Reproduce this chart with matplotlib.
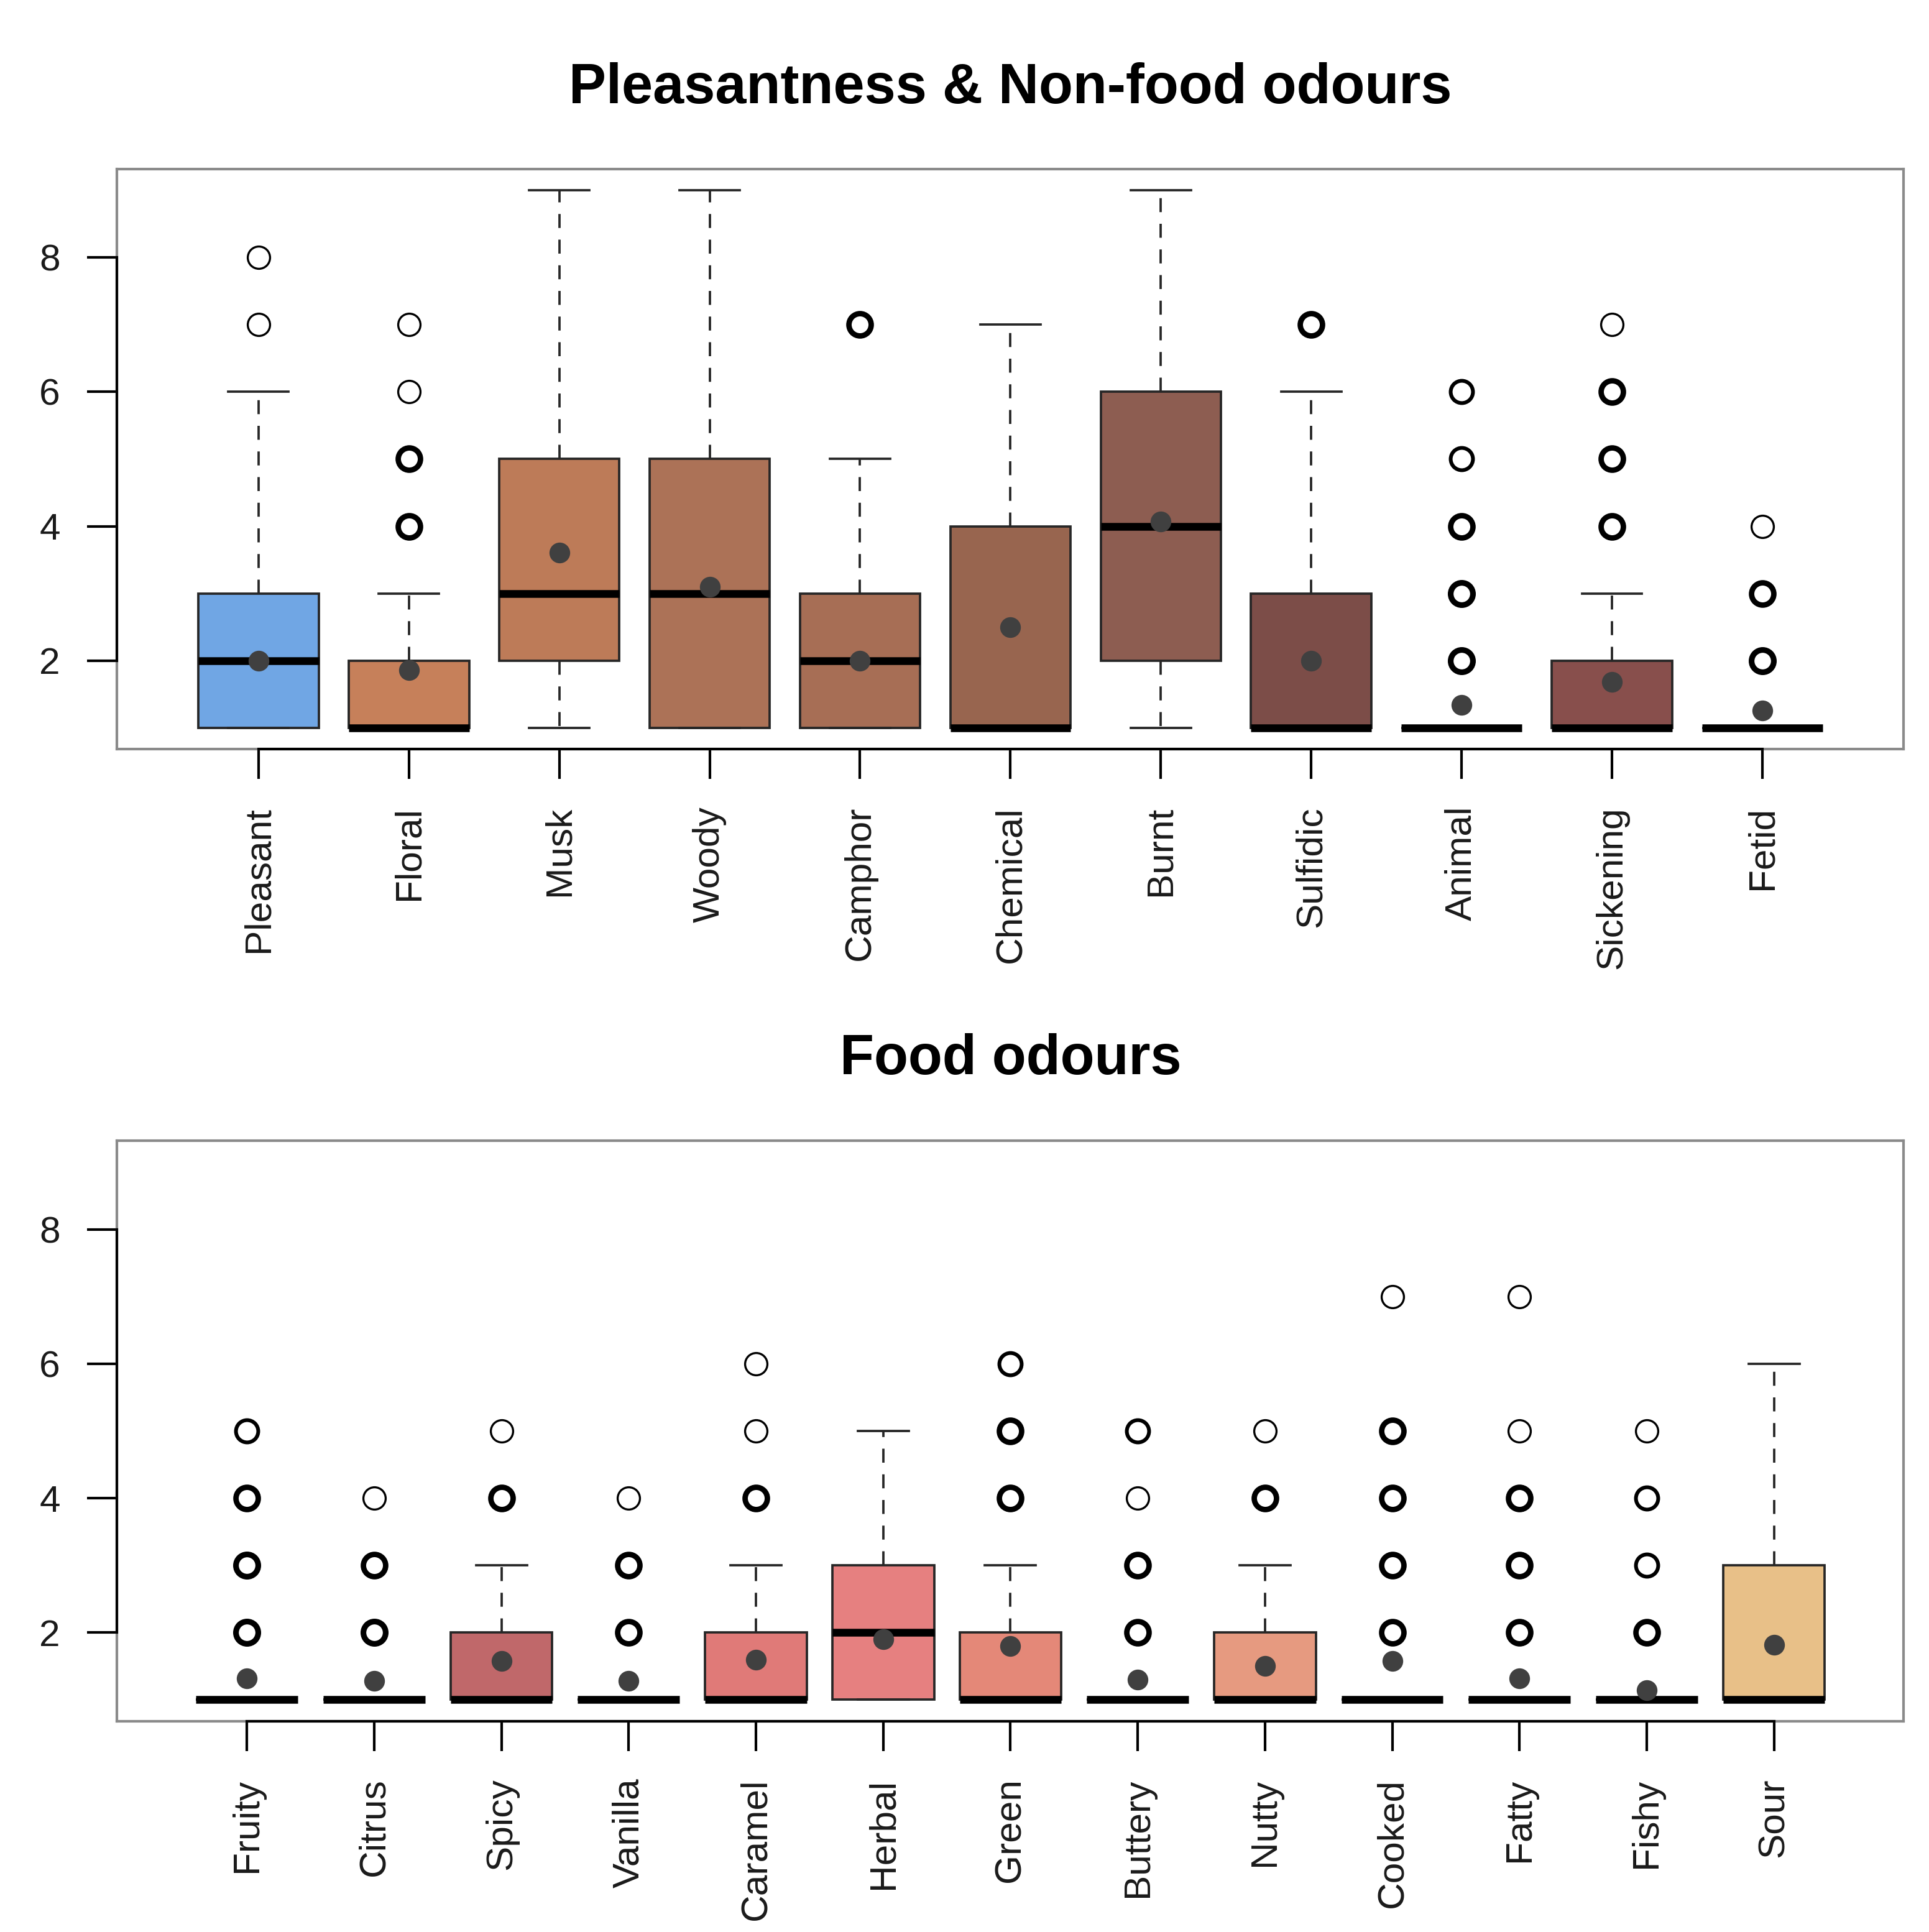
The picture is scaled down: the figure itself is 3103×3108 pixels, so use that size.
import matplotlib.pyplot as plt
import numpy as np

plt.rcParams['font.family'] = ['Liberation Sans', 'DejaVu Sans']

# ---- top panel: pleasantness & non-food odours
top_names = ['Pleasant', 'Floral', 'Musk', 'Woody', 'Camphor', 'Chemical',
             'Burnt', 'Sulfidic', 'Animal', 'Sickening', 'Fetid']
top_q1 = [1, 1, 2, 1, 1, 1, 2, 1, 1, 1, 1]
top_med = [2, 1, 3, 3, 2, 1, 4, 1, 1, 1, 1]
top_q3 = [3, 2, 5, 5, 3, 4, 6, 3, 1, 2, 1]
top_lo = [1, 1, 1, 1, 1, 1, 1, 1, 1, 1, 1]
top_hi = [6, 3, 9, 9, 5, 7, 9, 6, 1, 3, 1]
top_mean = [2.0, 1.86, 3.61, 3.1, 2.0, 2.5, 4.07, 2.0, 1.34, 1.68, 1.26]
top_out = [[7, 8], [4, 5, 6, 7], [], [], [7], [], [], [7],
           [2, 3, 4, 5, 6], [4, 5, 6, 7], [2, 3, 4]]
top_out_n = [[1, 1], [3, 3, 1, 1], [], [], [3], [], [], [3],
             [4, 4, 3, 2, 2], [3, 3, 3, 1], [4, 3, 1]]
top_colors = ['#70a6e4', '#c6805a', '#bd7b58', '#ac7257', '#a76e55', '#98654f',
              '#8d5d51', '#7c4d48', '#84504b', '#884f4c', '#7a4a46']

# ---- bottom panel: food odours
bot_names = ['Fruity', 'Citrus', 'Spicy', 'Vanilla', 'Caramel', 'Herbal', 'Green',
             'Buttery', 'Nutty', 'Cooked', 'Fatty', 'Fishy', 'Sour']
bot_q1 = [1, 1, 1, 1, 1, 1, 1, 1, 1, 1, 1, 1, 1]
bot_med = [1, 1, 1, 1, 1, 2, 1, 1, 1, 1, 1, 1, 1]
bot_q3 = [1, 1, 2, 1, 2, 3, 2, 1, 2, 1, 1, 1, 3]
bot_lo = [1, 1, 1, 1, 1, 1, 1, 1, 1, 1, 1, 1, 1]
bot_hi = [1, 1, 3, 1, 3, 5, 3, 1, 3, 1, 1, 1, 6]
bot_mean = [1.32, 1.28, 1.58, 1.28, 1.6, 1.9, 1.8, 1.3, 1.5, 1.58, 1.32, 1.14, 1.82]
bot_out = [[2, 3, 4, 5], [2, 3, 4], [4, 5], [2, 3, 4], [4, 5, 6], [], [4, 5, 6],
           [2, 3, 4, 5], [4, 5], [2, 3, 4, 5, 7], [2, 3, 4, 5, 7], [2, 3, 4, 5], []]
bot_out_n = [[4, 4, 3, 2], [4, 3, 1], [3, 1], [3, 3, 1], [3, 1, 1], [], [3, 3, 2],
             [3, 3, 1, 2], [3, 1], [3, 3, 3, 3, 1], [3, 3, 3, 1, 1], [3, 2, 2, 1], []]
bot_colors = ['#b8605e', '#bf6466', '#c0686a', '#d06e6e', '#e07a78', '#e68080',
              '#e48878', '#e39078', '#e69a80', '#e6a07e', '#e6a882', '#e8b486',
              '#e8c088']

ylim = (0.68, 9.32)


def panel(ax, names, q1, med, q3, lo, hi, mean, out, out_n, colors):
    n = len(names)
    pos = np.arange(1, n + 1)
    stats = []
    for i in range(n):
        stats.append(dict(med=med[i], q1=q1[i], q3=q3[i], whislo=lo[i],
                          whishi=hi[i], mean=mean[i], fliers=[]))
    bp = ax.bxp(stats, positions=pos, widths=0.8, capwidths=0.4,
                patch_artist=True, showfliers=False, showmeans=True,
                boxprops=dict(edgecolor='#262626', linewidth=0.9),
                whiskerprops=dict(color='#262626', linewidth=0.9, linestyle=(0, (6, 5))),
                capprops=dict(color='#262626', linewidth=0.9),
                medianprops=dict(color='black', linewidth=3.0, solid_capstyle='butt'),
                meanprops=dict(marker='o', markerfacecolor='#404040',
                               markeredgecolor='#404040', markersize=7))
    for patch, c in zip(bp['boxes'], colors):
        patch.set_facecolor(c)
    for m in bp['means']:
        m.set_zorder(5)
    for i in range(n):
        for v, k in zip(out[i], out_n[i]):
            lw = min(0.8 + 0.65 * (k - 1), 2.2)
            ax.plot(pos[i], v, marker='o', markersize=8.6, markerfacecolor='none',
                    markeredgecolor='black', markeredgewidth=lw, zorder=4)
    ax.set_xlim(0.5 - 0.04 * n, n + 0.5 + 0.04 * n)
    ax.set_ylim(*ylim)
    ax.set_yticks([2, 4, 6, 8])
    ax.set_xticks(pos)
    ax.set_xticklabels(names, rotation=90, va='top')
    ax.tick_params(length=11.5, width=1.0, pad=10.5, labelsize=14.5,
                   color='black', labelcolor='#1a1a1a')
    for s in ax.spines.values():
        s.set_color('#8a8a8a')
        s.set_linewidth(1.0)
    # axis lines spanning the tick range, as drawn by R's axis()
    ax.plot([0, 0], [2, 8], color='black', lw=1.0, clip_on=False,
            transform=ax.get_yaxis_transform(), zorder=6)
    ax.plot([1, n], [0, 0], color='black', lw=1.0, clip_on=False,
            transform=ax.get_xaxis_transform(), zorder=6)


fig = plt.figure(figsize=(3104 / 300, 3108 / 300), dpi=300)
ax1 = fig.add_axes([0.0607, 0.6122, 0.9259, 0.3004])
ax2 = fig.add_axes([0.0607, 0.1091, 0.9259, 0.3004])

panel(ax1, top_names, top_q1, top_med, top_q3, top_lo, top_hi, top_mean,
      top_out, top_out_n, top_colors)
panel(ax2, bot_names, bot_q1, bot_med, bot_q3, bot_lo, bot_hi, bot_mean,
      bot_out, bot_out_n, bot_colors)

fig.text(0.5237, 0.954, 'Pleasantness & Non-food odours', ha='center', va='center',
         fontsize=21.6, fontweight='bold')
fig.text(0.5237, 0.4515, 'Food odours', ha='center', va='center',
         fontsize=21.6, fontweight='bold')

fig.savefig('out.png', dpi=300, facecolor='white')
